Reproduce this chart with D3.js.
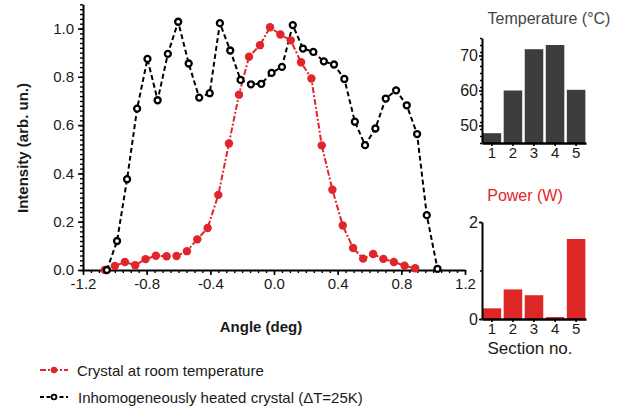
<!DOCTYPE html>
<html><head><meta charset="utf-8">
<script src="https://cdn.jsdelivr.net/npm/d3@7"></script>
<style>
body{margin:0;background:#fff;}
svg{display:block;font-family:"Liberation Sans",Arial,sans-serif;}
</style></head>
<body><svg id="c" width="641" height="410"></svg>
<script>
// ---- data ----
const roomX = [-1.063,-1.000,-0.937,-0.872,-0.807,-0.742,-0.675,-0.612,-0.547,-0.482,-0.417,-0.350,-0.283,-0.220,-0.157,-0.088,-0.025,0.040,0.105,0.170,0.235,0.300,0.367,0.432,0.497,0.560,0.623,0.687,0.753,0.820,0.887];
const roomY = [0.00,0.017,0.033,0.020,0.045,0.059,0.057,0.058,0.078,0.127,0.174,0.311,0.524,0.726,0.883,0.931,1.005,0.975,0.951,0.860,0.793,0.516,0.332,0.184,0.091,0.047,0.066,0.046,0.033,0.018,0.007];
const heatX = [-1.05,-0.986,-0.923,-0.86,-0.795,-0.731,-0.667,-0.602,-0.536,-0.47,-0.404,-0.34,-0.275,-0.21,-0.145,-0.08,-0.015,0.05,0.118,0.182,0.247,0.313,0.377,0.442,0.508,0.572,0.637,0.702,0.767,0.834,0.899,0.96,1.027];
const heatY = [0.0,0.12,0.376,0.668,0.874,0.703,0.895,1.028,0.855,0.714,0.732,1.022,0.909,0.787,0.769,0.771,0.816,0.841,1.014,0.917,0.903,0.864,0.851,0.791,0.614,0.517,0.586,0.71,0.744,0.682,0.563,0.227,0.005];
const xTicks = [-1.2,-0.8,-0.4,0.0,0.4,0.8,1.2];
const yTicks = [0.0,0.2,0.4,0.6,0.8,1.0];
const sections = [1,2,3,4,5];
const temperature = [47.8,60.0,71.8,73.0,60.2];
const tempTicks = [50,60,70];
const power = [0.22,0.61,0.49,0.04,1.65];
const powerTicks = [0,2];
const legendLabels = ["Crystal at room temperature","Inhomogeneously heated crystal (\u0394T=25K)"];

const RED = "#e0262b", BLACK = "#000";
const svg = d3.select("#c");

// ---- main chart ----
const x = d3.scaleLinear().domain([-1.2,1.2]).range([83,465]);
const y = d3.scaleLinear().domain([0,1.1]).range([270,4.35]);

function styleAxis(g){
  g.select(".domain").attr("stroke","#000").attr("stroke-width",2);
  g.selectAll(".tick line").attr("stroke","#000").attr("stroke-width",1.6);
  g.selectAll(".tick text").attr("fill","#1a1a1a").attr("font-size",15).attr("font-family","Liberation Sans, Arial, sans-serif");
}
// minor ticks
const xMinor = d3.range(-1.2,1.2001,0.05);
const yMinor = d3.range(0,1.1001,0.02);
svg.append("g").attr("transform","translate(0,270)")
  .call(d3.axisBottom(x).tickValues(xMinor).tickSize(3).tickFormat(""))
  .call(g=>{g.select(".domain").remove();g.selectAll(".tick line").attr("stroke","#000").attr("stroke-width",1.4);});
svg.append("g").attr("transform","translate(83,0)")
  .call(d3.axisLeft(y).tickValues(yMinor).tickSize(3).tickFormat(""))
  .call(g=>{g.select(".domain").remove();g.selectAll(".tick line").attr("stroke","#000").attr("stroke-width",1.4);});
const gx = svg.append("g").attr("transform","translate(0,270)")
  .call(d3.axisBottom(x).tickValues(xTicks).tickSize(5).tickSizeOuter(0).tickPadding(3).tickFormat(d3.format(".1f")));
styleAxis(gx);
gx.selectAll(".tick text").text(d=>d3.format(".1f")(d).replace("\u2212","-"));
const gy = svg.append("g").attr("transform","translate(83,0)")
  .call(d3.axisLeft(y).tickValues(yTicks).tickSize(5).tickSizeOuter(0).tickPadding(4).tickFormat(d3.format(".1f")));
styleAxis(gy);

svg.append("text").attr("x",261).attr("y",332).attr("text-anchor","middle")
  .attr("font-size",15).attr("font-weight","bold").attr("fill","#1a1a1a").text("Angle (deg)");
svg.append("text").attr("transform","translate(28,148) rotate(-90)").attr("text-anchor","middle")
  .attr("font-size",15).attr("font-weight","bold").attr("fill","#1a1a1a").text("Intensity (arb. un.)");

const line = d3.line().x(d=>x(d[0])).y(d=>y(d[1]));
const heat = heatX.map((v,i)=>[v,heatY[i]]);
const room = roomX.map((v,i)=>[v,roomY[i]]);

svg.append("path").datum(heat).attr("d",line).attr("fill","none")
  .attr("stroke",BLACK).attr("stroke-width",2).attr("stroke-dasharray","5,3");
svg.append("path").datum(room).attr("d",line).attr("fill","none")
  .attr("stroke",RED).attr("stroke-width",2).attr("stroke-dasharray","6,2,2,2");
svg.append("g").selectAll("circle").data(room).join("circle")
  .attr("cx",d=>x(d[0])).attr("cy",d=>y(d[1])).attr("r",4.2).attr("fill",RED);
svg.append("g").selectAll("circle").data(heat).join("circle")
  .attr("cx",d=>x(d[0])).attr("cy",d=>y(d[1])).attr("r",3)
  .attr("fill","#fff").attr("stroke",BLACK).attr("stroke-width",2.3);

// ---- legend ----
const lg = svg.append("g");
lg.append("line").attr("x1",40).attr("x2",68).attr("y1",370).attr("y2",370)
  .attr("stroke",RED).attr("stroke-width",2).attr("stroke-dasharray","6,2,2,2");
lg.append("circle").attr("cx",54).attr("cy",370).attr("r",3.2).attr("fill",RED);
lg.append("text").attr("x",77).attr("y",375.5).attr("font-size",15).attr("fill","#1a1a1a").text(legendLabels[0]);
lg.append("line").attr("x1",40).attr("x2",68).attr("y1",397).attr("y2",397)
  .attr("stroke",BLACK).attr("stroke-width",2).attr("stroke-dasharray","4,2.5");
lg.append("circle").attr("cx",54).attr("cy",397).attr("r",2.4).attr("fill","#fff").attr("stroke",BLACK).attr("stroke-width",1.8);
lg.append("text").attr("x",78).attr("y",402.5).attr("font-size",15).attr("fill","#1a1a1a").text(legendLabels[1]);

// ---- insets ----
const xb = d3.scaleBand().domain(sections).range([482,586]).paddingInner(0.12).paddingOuter(0.03);

function inset(vals, yDomain, yRange, ticks, minorStep, color, title, titleColor, titleX, titleY){
  const ys = d3.scaleLinear().domain(yDomain).range(yRange);
  const g = svg.append("g");
  g.selectAll("rect").data(vals).join("rect")
    .attr("x",(d,i)=>xb(sections[i])).attr("width",xb.bandwidth())
    .attr("y",d=>ys(d)).attr("height",d=>ys(yDomain[0])-ys(d)).attr("fill",color);
  g.append("g").attr("transform","translate(482,0)")
    .call(d3.axisLeft(ys).tickValues(d3.range(yDomain[0],yDomain[1]+0.001,minorStep)).tickSize(2).tickFormat(""))
    .call(a=>{a.select(".domain").remove();a.selectAll(".tick line").attr("stroke","#000").attr("stroke-width",1.4);});
  const ay = g.append("g").attr("transform","translate(482,0)")
    .call(d3.axisLeft(ys).tickValues(ticks).tickSize(3).tickSizeOuter(0).tickPadding(1).tickFormat(d3.format("d")));
  styleAxis(ay);
  ay.selectAll(".tick text").attr("font-size",16);
  const ax = g.append("g").attr("transform",`translate(0,${yRange[0]})`)
    .call(d3.axisBottom(xb).tickSize(3).tickSizeOuter(0).tickPadding(1));
  styleAxis(ax);
  ax.select(".domain").attr("stroke-width",2.5);
  g.append("text").attr("x",titleX).attr("y",titleY).attr("text-anchor","middle")
    .attr("font-size",16).attr("fill",titleColor).text(title);
}
inset(temperature,[45,75],[143,38],tempTicks,2,"#3d3d3d","Temperature (\u00B0C)","#444",549,24);
inset(power,[0,2],[319,222],powerTicks,1,"#dd2626","Power (W)","#e0262b",525,201);

svg.append("text").attr("x",530).attr("y",354).attr("text-anchor","middle")
  .attr("font-size",17).attr("fill","#1a1a1a").text("Section no.");
</script></body></html>
